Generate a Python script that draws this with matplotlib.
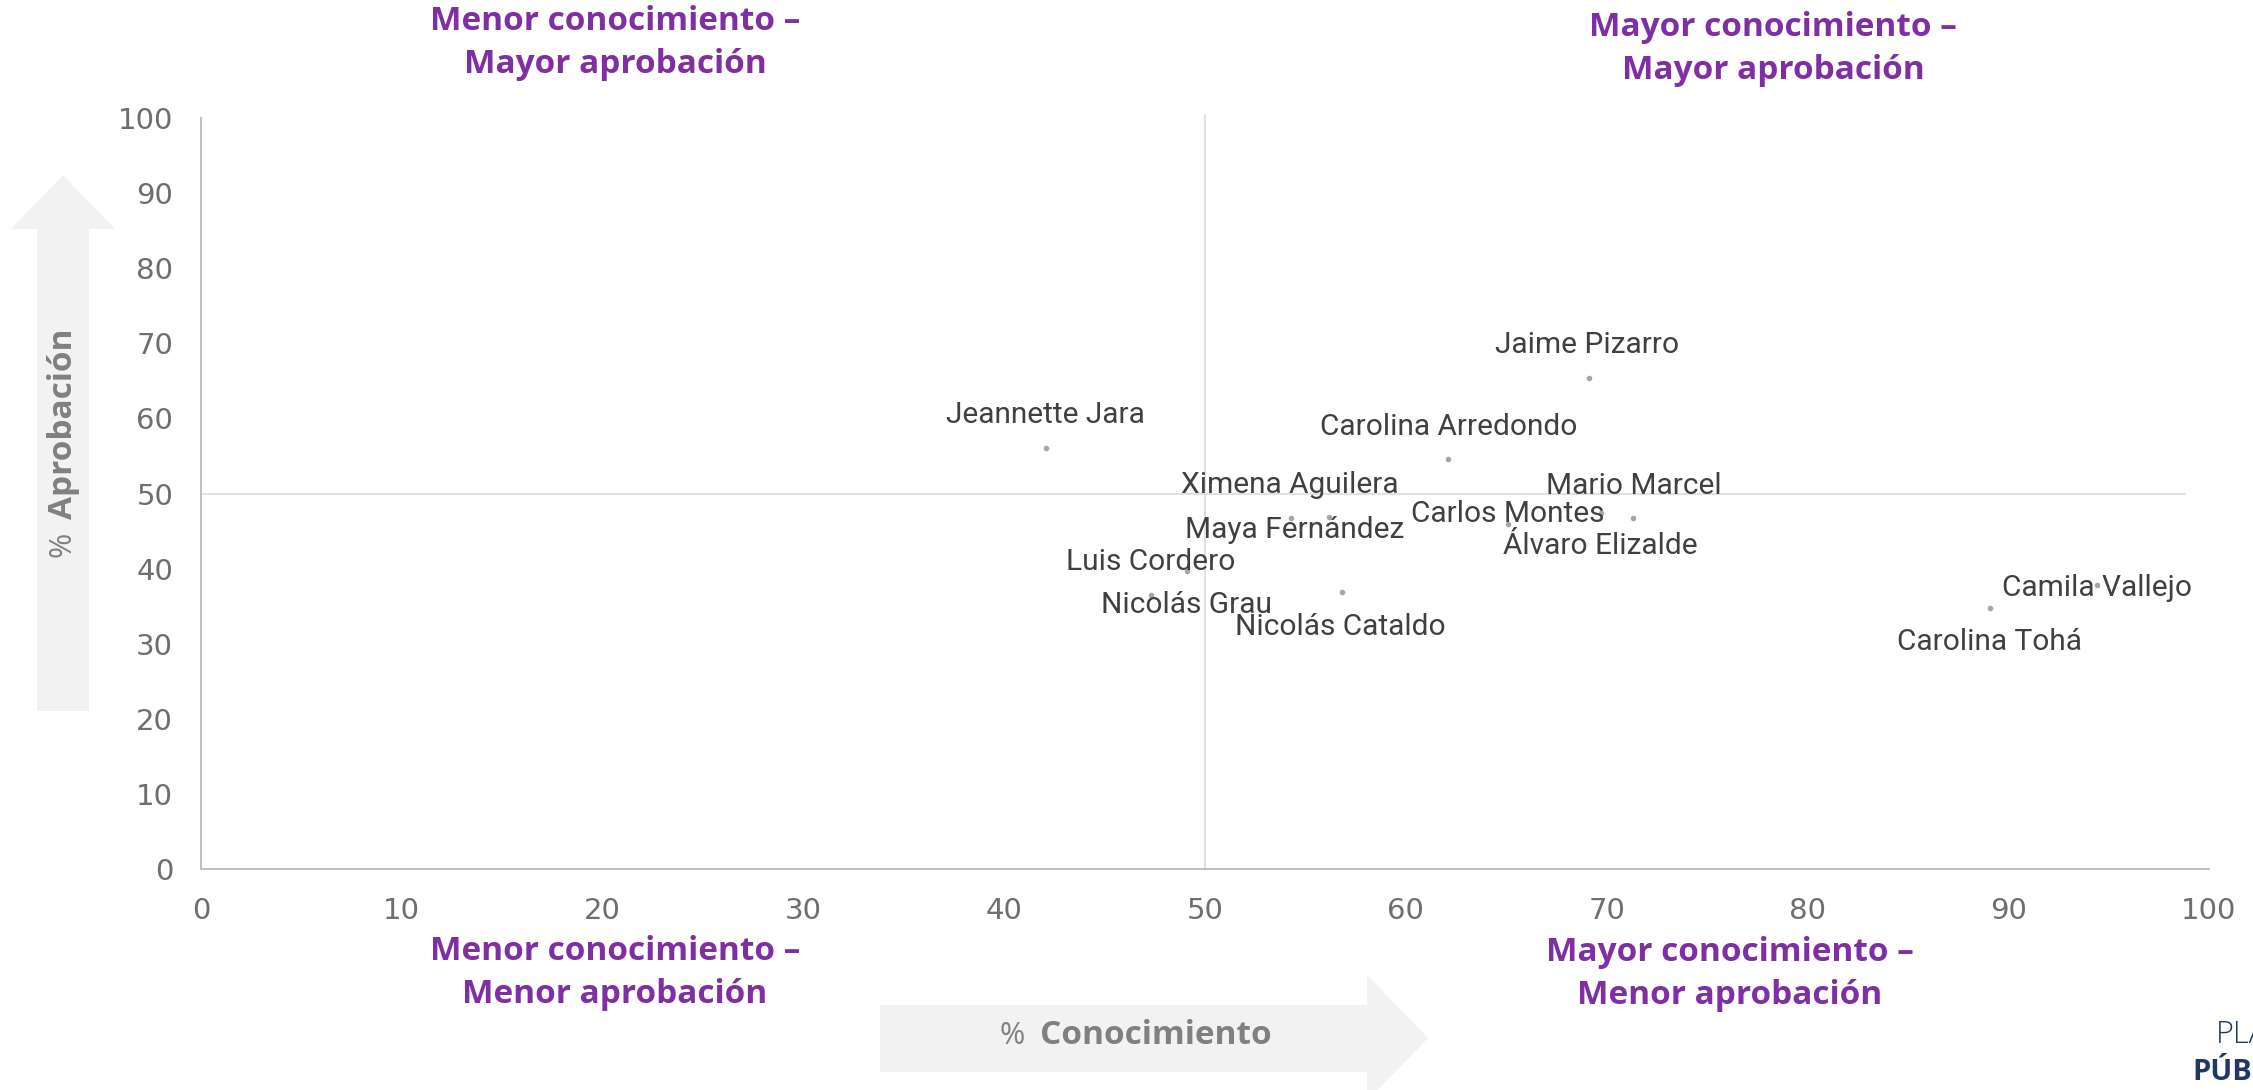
import matplotlib
matplotlib.use("Agg")
import matplotlib.pyplot as plt
from matplotlib.patches import Polygon

W, H = 2253, 1090

nombres = ["Jaime Pizarro", "Jeannette Jara", "Carolina Arredondo", "Ximena Aguilera",
           "Maya Fernández", "Carlos Montes", "Mario Marcel", "Álvaro Elizalde",
           "Luis Cordero", "Nicolás Grau", "Nicolás Cataldo", "Camila Vallejo",
           "Carolina Tohá"]
conocimiento = [69.1, 42.1, 62.1, 54.3, 56.2, 65.1, 71.3, 69.7, 47.3, 49.1, 56.8, 94.4, 89.1]
aprobacion = [65.4, 56.1, 54.6, 46.8, 46.9, 45.9, 46.8, 47.4, 36.5, 39.7, 36.9, 37.8, 34.8]
ticks = list(range(0, 101, 10))

# donde va cada etiqueta respecto a su punto (pixeles)
offsets = {
    "Jaime Pizarro": (-1, 33), "Jeannette Jara": (-1, 33), "Carolina Arredondo": (1, 32),
    "Ximena Aguilera": (-2, 33), "Maya Fernández": (-35, -13), "Carlos Montes": (0, 10),
    "Mario Marcel": (1, 32), "Álvaro Elizalde": (0, -33), "Luis Cordero": (0, 33),
    "Nicolás Grau": (0, -34), "Nicolás Cataldo": (-1, -35), "Camila Vallejo": (0, -3),
    "Carolina Tohá": (-1, -34),
}

purple = "#7F2FA3"
gris = "#808080"


def fx(px):
    return px / W


def fy(py):
    return 1 - py / H


fig = plt.figure(figsize=(W / 100, H / 100), dpi=100)
ax = fig.add_axes([fx(201), fy(869), 2008 / W, 751 / H])

# flechas de fondo
flecha_h = [(880, 1005), (1367, 1005), (1367, 975), (1428, 1038), (1367, 1101),
            (1367, 1072), (880, 1072)]
flecha_v = [(37, 711), (37, 229), (11, 229), (63, 175), (115, 229), (89, 229), (89, 711)]
for pts in (flecha_h, flecha_v):
    fig.patches.append(Polygon([(fx(a), fy(b)) for a, b in pts], closed=True,
                               transform=fig.transFigure, facecolor="#F2F2F2",
                               edgecolor="none", zorder=0))

ax.set_xlim(0, 100)
ax.set_ylim(0, 100)
ax.set_xticks(ticks)
ax.set_yticks(ticks)
ax.tick_params(length=0, labelsize=21, labelcolor="#6E6E6E")
ax.tick_params(axis="x", pad=20)
ax.tick_params(axis="y", pad=20)
for lab in ax.get_xticklabels() + ax.get_yticklabels():
    lab.set_fontfamily("DejaVu Sans")
for s in ["top", "right"]:
    ax.spines[s].set_visible(False)
for s in ["left", "bottom"]:
    ax.spines[s].set_color("#BFBFBF")
    ax.spines[s].set_linewidth(1.4)
ax.set_facecolor("none")

# cuadrantes
ax.plot([0, 98.8], [50, 50], color="#D9D9D9", lw=1.1, zorder=1)
ax.plot([50, 50], [0, 100.4], color="#D9D9D9", lw=1.1, zorder=1, clip_on=False)

ax.scatter(conocimiento, aprobacion, s=16, color="#A6A6A6", zorder=2, linewidths=0)
for n, x, y in zip(nombres, conocimiento, aprobacion):
    ax.annotate(n, (x, y), xytext=offsets[n], textcoords="offset pixels",
                ha="center", va="center", fontsize=21.5, color="#404040",
                family="Roboto", zorder=3)

# titulos de cuadrante
quads = [
    (615, 43, "Menor conocimiento –\nMayor aprobación"),
    (1773, 49, "Mayor conocimiento –\nMayor aprobación"),
    (615, 973, "Menor conocimiento –\nMenor aprobación"),
    (1730, 974, "Mayor conocimiento –\nMenor aprobación"),
]
for x, y, t in quads:
    fig.text(fx(x), fy(y), t, ha="center", va="center", ma="center", color=purple,
             fontsize=24, fontweight="bold", family="Open Sans", linespacing=1.38)

# nombres de ejes
fig.text(fx(1012), fy(1036), "%", ha="center", va="center", color=gris, fontsize=22,
         family="Open Sans")
fig.text(fx(1156), fy(1036), "Conocimiento", ha="center", va="center", color=gris,
         fontsize=24, fontweight="bold", family="Open Sans")
fig.text(fx(63), fy(544), "%", ha="center", va="center", color=gris, fontsize=22,
         family="Open Sans", rotation=90)
fig.text(fx(63), fy(424), "Aprobación", ha="center", va="center", color=gris,
         fontsize=24, fontweight="bold", family="Open Sans", rotation=90)

# logo cortado abajo a la derecha
fig.text(fx(2216), fy(1035), "PLAZA", ha="left", va="center", color="#1F3864",
         fontsize=22, fontweight="light", family="Open Sans")
fig.text(fx(2192), fy(1072), "PÚBLICA", ha="left", va="center", color="#1F3864",
         fontsize=21, fontweight="bold", family="Open Sans")

fig.savefig("out.png", dpi=100)
